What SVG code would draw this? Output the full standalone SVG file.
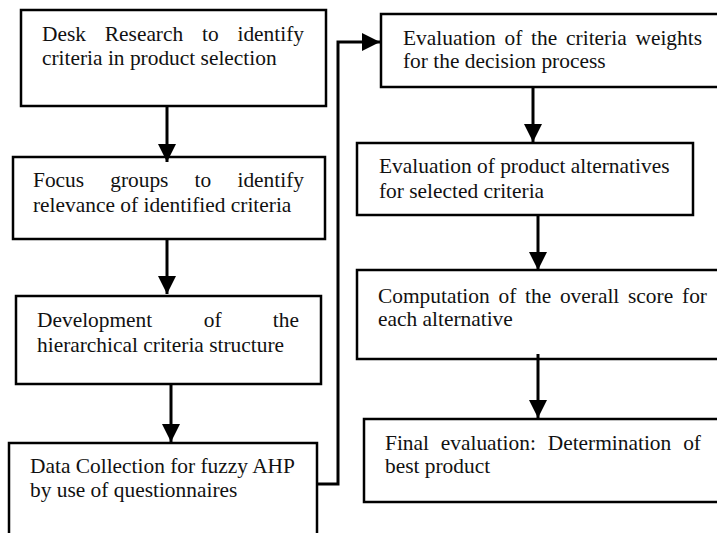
<svg xmlns="http://www.w3.org/2000/svg" width="717" height="533" viewBox="0 0 717 533">
<defs>
<style>
.box{fill:#fff;stroke:#000;stroke-width:2.5}
.t{font-family:"Liberation Serif","Times New Roman",serif;font-size:21.4px;fill:#111}
.e{text-anchor:end}
.c{fill:none;stroke:#000;stroke-width:3}
</style>
<marker id="ah" markerUnits="userSpaceOnUse" markerWidth="18" markerHeight="18" viewBox="0 0 16 16" refX="16" refY="8" orient="auto">
<path d="M0,0 L16,8 L0,16 Z" fill="#000"/>
</marker>
</defs>
<rect width="717" height="533" fill="#fff"/>
<g id="n1">
<rect class="box" x="21" y="10" width="305" height="96"/>
<text class="t" y="41"><tspan x="42">Desk</tspan><tspan x="104.8">Research</tspan><tspan x="202">to</tspan><tspan x="304" class="e">identify</tspan></text>
<text class="t" x="42" y="65">criteria in product selection</text>
</g>
<g id="n2">
<rect class="box" x="13" y="157" width="312" height="82"/>
<text class="t" y="187"><tspan x="33">Focus</tspan><tspan x="110.2">groups</tspan><tspan x="194.6">to</tspan><tspan x="304" class="e">identify</tspan></text>
<text class="t" x="33" y="212">relevance of identified criteria</text>
</g>
<g id="n3">
<rect class="box" x="16" y="296" width="305" height="88"/>
<text class="t" y="327"><tspan x="37">Development</tspan><tspan x="203.7">of</tspan><tspan x="299" class="e">the</tspan></text>
<text class="t" x="37" y="352">hierarchical criteria structure</text>
</g>
<g id="n4">
<rect class="box" x="9" y="443" width="308" height="100"/>
<text class="t" x="30" y="473">Data Collection for fuzzy AHP</text>
<text class="t" x="30" y="497">by use of questionnaires</text>
</g>
<g id="n5">
<rect class="box" x="381" y="14" width="350" height="73"/>
<text class="t" y="45"><tspan x="403">Evaluation</tspan><tspan x="504.5">of</tspan><tspan x="531.1">the</tspan><tspan x="566.1">criteria</tspan><tspan x="702" class="e">weights</tspan></text>
<text class="t" x="403" y="68">for the decision process</text>
</g>
<g id="n6">
<rect class="box" x="357" y="143" width="336" height="72"/>
<text class="t" x="379" y="173">Evaluation of product alternatives</text>
<text class="t" x="379" y="198">for selected criteria</text>
</g>
<g id="n7">
<rect class="box" x="357" y="270" width="374" height="89"/>
<text class="t" y="303"><tspan x="378">Computation</tspan><tspan x="498.5">of</tspan><tspan x="525">the</tspan><tspan x="559.9">overall</tspan><tspan x="628">score</tspan><tspan x="707" class="e">for</tspan></text>
<text class="t" x="378" y="326">each alternative</text>
</g>
<g id="n8">
<rect class="box" x="364" y="419" width="367" height="83"/>
<text class="t" y="450"><tspan x="385">Final</tspan><tspan x="440.8">evaluation:</tspan><tspan x="547.7">Determination</tspan><tspan x="701" class="e">of</tspan></text>
<text class="t" x="385" y="473">best product</text>
</g>
<g id="connectors">
<path class="c" d="M167,106 V162" marker-end="url(#ah)"/>
<path class="c" d="M167,239 V294" marker-end="url(#ah)"/>
<path class="c" d="M171,384 V442" marker-end="url(#ah)"/>
<path class="c" d="M317,484 H338 V42 H380" marker-end="url(#ah)"/>
<path class="c" d="M533,87 V142" marker-end="url(#ah)"/>
<path class="c" d="M538,215 V270" marker-end="url(#ah)"/>
<path class="c" d="M538,354 V418" marker-end="url(#ah)"/>
</g>
</svg>
